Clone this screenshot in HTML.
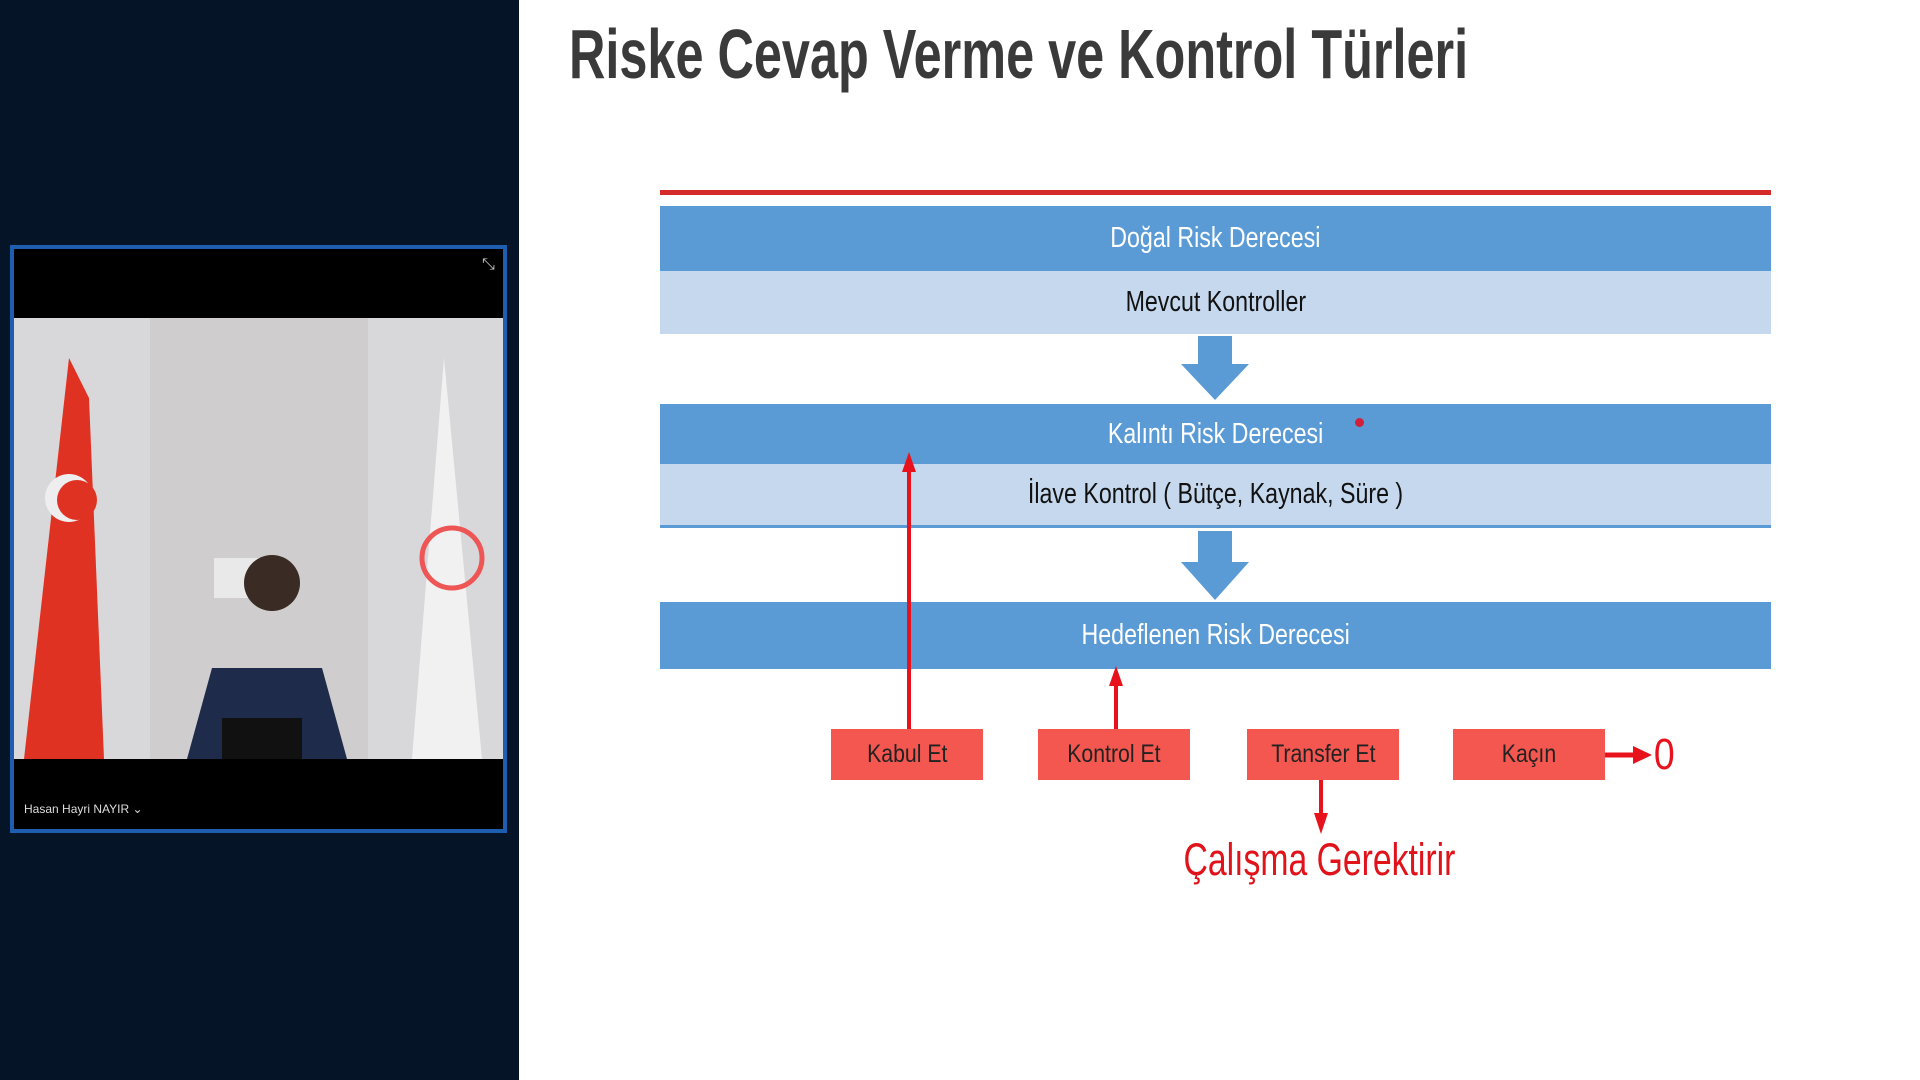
<!DOCTYPE html>
<html><head><meta charset="utf-8"><style>
body{margin:0;width:1920px;height:1080px;background:#fff;position:relative;overflow:hidden;font-family:"Liberation Sans Narrow","Liberation Sans",sans-serif}
div{position:absolute;box-sizing:border-box}
.t{white-space:nowrap;text-align:center;transform-origin:center}
.band{left:660px;width:1111px;background:#5b9bd5;color:#fff;font-size:29px;display:flex;align-items:center;justify-content:center}
.lt{left:660px;width:1111px;background:#c6d8ee;color:#111;font-size:29px;display:flex;align-items:center;justify-content:center}
.rb{top:729px;height:51px;width:152px;background:#f4574f;color:#222;font-size:25px;display:flex;align-items:center;justify-content:center}
.band span,.lt span{transform:scaleX(.8)}
</style></head><body>
<div style="left:0;top:0;width:519px;height:1080px;background:#061428"></div>
<div style="left:10px;top:245px;width:497px;height:588px;border:4px solid #1e5eb0;background:#000"></div>
<div style="left:14px;top:318px;width:489px;height:441px;background:#d8d8da"></div>
<div style="left:150px;top:318px;width:218px;height:441px;background:#cfcdce"></div>
<svg style="position:absolute;left:14px;top:318px" width="489" height="441">
<path d="M55 40 L75 80 L90 441 L10 441 Z" fill="#e03222"/>
<circle cx="55" cy="180" r="24" fill="#eee"/><circle cx="63" cy="182" r="20" fill="#e03222"/>
<path d="M430 40 L468 441 L398 441 Z" fill="#f1f1f1"/>
<circle cx="438" cy="240" r="30" fill="none" stroke="#e55" stroke-width="5"/>
<rect x="200" y="240" width="60" height="40" fill="#e9e9e9"/>
<circle cx="258" cy="265" r="28" fill="#3a2c24"/>
<path d="M173 441 L198 350 L308 350 L333 441 Z" fill="#1f2b4a"/>
<rect x="208" y="400" width="80" height="41" fill="#111"/>
</svg>
<div style="left:24px;top:802px;color:#ddd;font-size:12px">Hasan Hayri NAYIR ⌄</div>
<div style="left:482px;top:256px;color:#ccc;font-size:16px">⤡</div>
<div class="t" style="left:569px;top:14px;width:1200px;font-size:70px;font-weight:bold;color:#3a3a3a;transform:scaleX(0.72);transform-origin:left;text-align:left">Riske Cevap Verme ve Kontrol Türleri</div>
<div style="left:660px;top:190px;width:1111px;height:5px;background:#d42a2a"></div>
<div class="band" style="top:206px;height:65px"><span>Doğal Risk Derecesi</span></div>
<div class="lt" style="top:271px;height:63px"><span>Mevcut Kontroller</span></div>
<div class="band" style="top:404px;height:60px"><span>Kalıntı Risk Derecesi</span></div>
<div class="lt" style="top:464px;height:64px;border-bottom:3px solid #5b9bd5"><span>İlave Kontrol ( Bütçe, Kaynak, Süre )</span></div>
<div class="band" style="top:602px;height:67px"><span>Hedeflenen Risk Derecesi</span></div>
<div style="left:1355px;top:418px;width:9px;height:9px;border-radius:50%;background:#d0203a"></div>
<svg style="position:absolute;left:0;top:0" width="1920" height="1080">
<path d="M1198 336 H1232 V364 H1249 L1215 400 L1181 364 H1198 Z" fill="#5b9bd5"/>
<path d="M1198 531 H1232 V562 H1249 L1215 600 L1181 562 H1198 Z" fill="#5b9bd5"/>
<g stroke="#e8121c" stroke-width="4" fill="#e8121c">
<line x1="909" y1="729" x2="909" y2="470"/><path d="M902 472 L909 452 L916 472 Z" stroke="none"/>
<line x1="1116" y1="729" x2="1116" y2="684"/><path d="M1109 686 L1116 666 L1123 686 Z" stroke="none"/>
<line x1="1321" y1="780" x2="1321" y2="815"/><path d="M1314 813 L1321 834 L1328 813 Z" stroke="none"/>
<line x1="1605" y1="755" x2="1636" y2="755" stroke-width="5"/><path d="M1633 746 L1652 755 L1633 764 Z" stroke="none"/>
</g>
</svg>
<div class="rb" style="left:831px"><span style="transform:scaleX(.85)">Kabul Et</span></div>
<div class="rb" style="left:1038px"><span style="transform:scaleX(.85)">Kontrol Et</span></div>
<div class="rb" style="left:1247px"><span style="transform:scaleX(.85)">Transfer Et</span></div>
<div class="rb" style="left:1453px"><span style="transform:scaleX(.85)">Kaçın</span></div>
<div style="left:1652px;top:730px;color:#e8121c;font-size:44px;transform:scaleX(.85)">0</div>
<div class="t" style="left:1146px;top:834px;width:300px;color:#e0121a;font-size:45px;transform:scaleX(.75)">Çalışma Gerektirir</div>
</body></html>
